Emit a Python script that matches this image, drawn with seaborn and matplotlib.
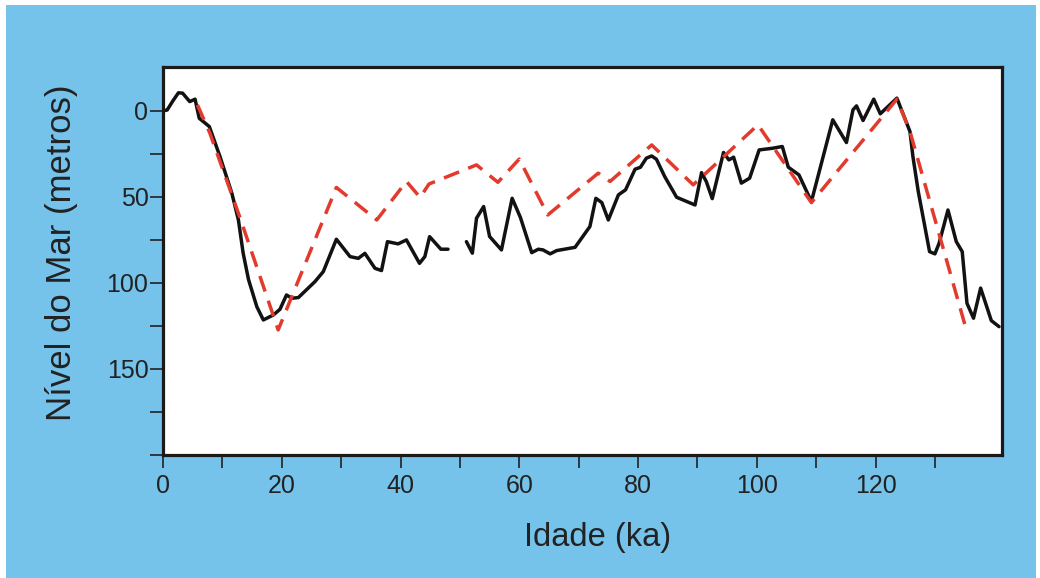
import matplotlib
matplotlib.use("Agg")
import matplotlib.pyplot as plt
from matplotlib.patches import Rectangle
import pandas as pd
import seaborn as sns

# Sea-level record (solid black), first stretch up to ~48 ka
idade_a = [0.0, 0.7, 1.7, 2.6, 3.3, 4.5, 5.4, 6.1, 7.8, 9.6, 11.6, 12.7, 13.5,
           14.4, 15.8, 16.9, 18.6, 19.7, 20.8, 21.7, 22.8, 25.6, 27.0, 29.2,
           31.5, 32.9, 34.0, 35.7, 36.8, 37.8, 39.6, 41.0, 43.2, 44.1, 44.9,
           46.8, 48.0]
nivel_a = [0, -0.5, -6, -10.5, -10.3, -5.4, -6.8, 4.3, 9.1, 26.6, 47.9, 63.4,
           82.7, 98, 113.8, 121.5, 118.6, 115.3, 107, 108.9, 108.5, 99.2, 93.4,
           74.6, 84.7, 85.7, 82.8, 91.5, 92.8, 76, 77.3, 75, 88.6, 84.7, 73.1,
           80.4, 80.4]

# Sea-level record (solid black), after the gap
idade_b = [51.1, 52.1, 52.8, 54.0, 55.0, 57.0, 58.8, 60.2, 62.1, 63.2, 64.0,
           65.2, 66.3, 69.4, 71.9, 72.9, 73.9, 75.0, 76.7, 77.9, 79.5, 80.4,
           81.4, 82.3, 83.1, 84.5, 86.5, 89.6, 90.7, 91.5, 92.5, 94.4, 95.3,
           96.1, 97.4, 98.8, 100.4, 102.7, 104.3, 105.3, 107.1, 109.2, 112.8,
           115.1, 116.2, 116.8, 117.9, 119.7, 120.8, 123.6, 125.8, 126.3,
           127.2, 129.1, 130.0, 130.7, 132.2, 133.6, 134.6, 135.4, 136.5,
           137.7, 139.5, 140.8]
nivel_b = [76, 82.7, 62.4, 55.6, 73, 80.8, 50.8, 62, 82.4, 80.4, 80.8, 83.1,
           81.2, 79.3, 67.2, 50.8, 53.3, 63.4, 48.8, 45.9, 33.9, 32.8, 27.5,
           26.2, 28.1, 38.2, 50.2, 54.7, 35.9, 41.1, 51, 24.2, 28.5, 26.9, 42,
           39.1, 22.7, 21.7, 20.7, 32.7, 37.2, 52.7, 5.2, 18.4, -0.6, -2.9,
           5.6, -6.8, 1.7, -7.4, 12, 26.6, 46.9, 81.8, 83.1, 77, 57.6, 76,
           81.8, 111.8, 120.5, 103, 121.9, 125.4]

# Reconstructed curve (red dashed)
idade_c = [5.8, 7.9, 13.0, 19.4, 29.2, 36.0, 41.0, 43.3, 44.8, 52.8, 56.4,
           60.0, 64.8, 73.3, 75.3, 82.3, 89.3, 100.2, 109.2, 123.6, 125.8,
           135.3]
nivel_c = [-3.5, 13, 62.4, 127.3, 44.5, 63.4, 41, 50.3, 42.5, 31.4, 41.5,
           28, 60.5, 36.2, 41, 19.8, 43, 8.1, 53.3, -6.8, 12, 127.3]

x_major = [0, 20, 40, 60, 80, 100, 120]
x_minor = [10, 30, 50, 70, 90, 110, 130]
y_major = [0, 50, 100, 150]
y_minor = [25, 75, 125, 175, 200]

sns.set_style("ticks")
plt.rcParams["font.family"] = ["Liberation Sans", "DejaVu Sans"]

W, H = 1040, 578
fig = plt.figure(figsize=(W / 100, H / 100), dpi=100, facecolor="white")
fig.patches.append(Rectangle((6 / W, 0), 1030 / W, 573 / H,
                             transform=fig.transFigure, facecolor="#75C3EB",
                             edgecolor="none", zorder=-5))

ax = fig.add_axes([163 / W, 123 / H, 839 / W, 388 / H])
ax.set_zorder(2)
ax.set_facecolor("white")

df_a = pd.DataFrame({"idade": idade_a, "nivel": nivel_a})
df_b = pd.DataFrame({"idade": idade_b, "nivel": nivel_b})
df_c = pd.DataFrame({"idade": idade_c, "nivel": nivel_c})

for df in (df_a, df_b):
    sns.lineplot(data=df, x="idade", y="nivel", ax=ax, sort=False,
                 estimator=None, color="#121212", linewidth=2.5, zorder=2)

sns.lineplot(data=df_c, x="idade", y="nivel", ax=ax, sort=False,
             estimator=None, color="#E23B2E", linewidth=2.5, zorder=3)
ax.lines[-1].set_dashes((4.7, 2.8))
ax.lines[-1].set_dash_capstyle("butt")

ax.set_xlim(0, 141.3)
ax.set_ylim(200, -25.5)

ax.set_xticks(x_major)
ax.set_xticks(x_minor, minor=True)
ax.set_yticks(y_major)
ax.set_yticks(y_minor, minor=True)
ax.tick_params(which="both", direction="out", length=9.5, width=1.2,
               color="#222222", labelsize=18, labelcolor="#222222")
ax.tick_params(axis="x", which="both", pad=4)
ax.tick_params(axis="y", which="both", pad=1)

for s in ax.spines.values():
    s.set_visible(True)
    s.set_linewidth(2.3)
    s.set_color("#1a1a1a")

ax.set_xlabel("Idade (ka)", fontsize=23.5, color="#222222")
ax.set_ylabel("Nível do Mar (metros)", fontsize=25, color="#222222")
ax.xaxis.set_label_coords(0.518, -0.172)
ax.yaxis.set_label_coords(-0.101, 0.52)

fig.savefig("out.png", dpi=100, facecolor=fig.get_facecolor())
